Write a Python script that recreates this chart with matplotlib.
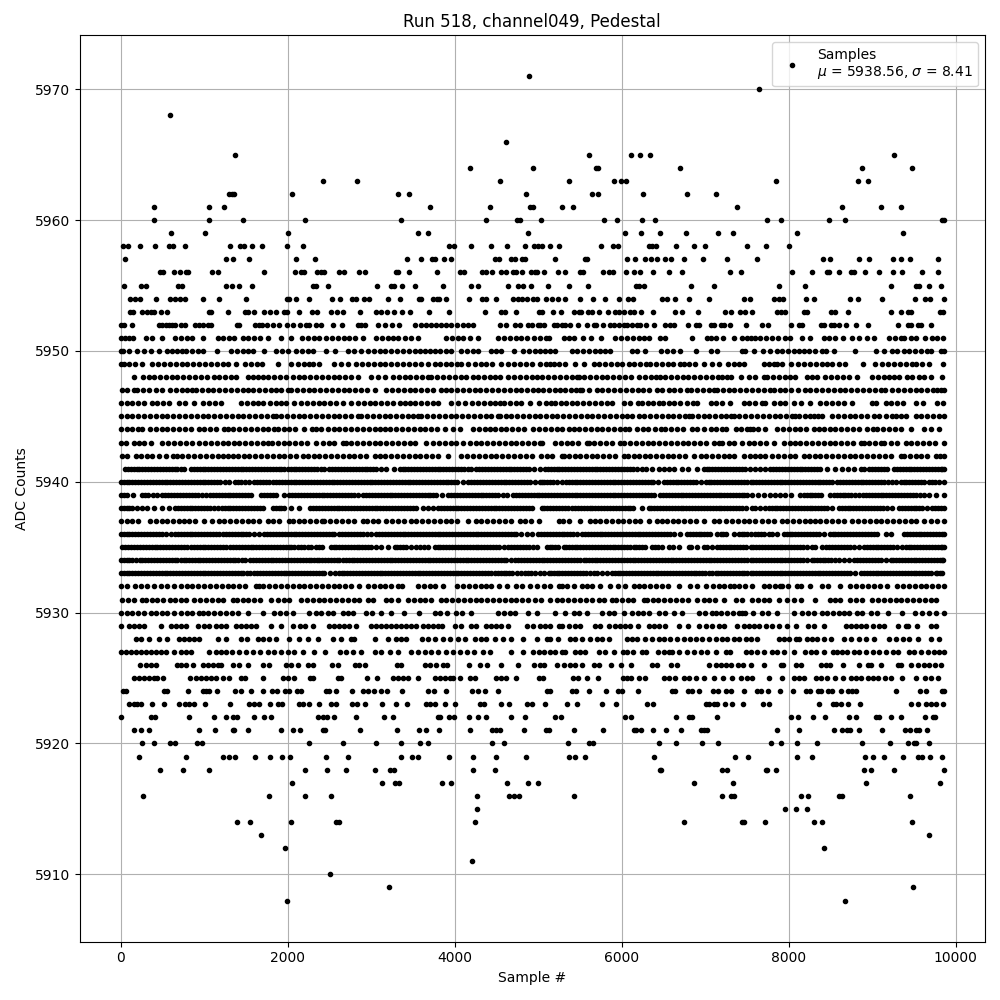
import matplotlib
matplotlib.use("Agg")
import matplotlib.pyplot as plt

# sample numbers, one list per ADC level
adc_5971 = [4892]
adc_5970 = [7644]
adc_5968 = [596]
adc_5966 = [4616]
adc_5965 = [1364, 5604, 6108, 6216, 6336, 9264]
adc_5964 = [4184, 4940, 5692, 5716, 6696, 8880, 9480]
adc_5963 = [2420, 2828, 4544, 5364, 5904, 5996, 6048, 7848, 8832, 8952]
adc_5962 = [1296, 1328, 1356, 2048, 3320, 3452, 4856, 5648, 5716, 6252, 6780, 7128]
adc_5961 = [404, 1052, 1232, 3704, 4424, 4900, 4932, 5280, 5412, 7380, 8640, 9108, 9348]
adc_5960 = [396, 1052, 1460, 2204, 3356, 4376, 4748, 4780, 5028, 5788, 5940, 6240, 6396, 7740, 7908, 8484, 8676, 9830, 9858]
adc_5959 = [608, 1004, 2000, 3560, 3680, 4880, 6036, 6228, 6456, 6768, 7152, 7332, 8100, 9372]
adc_5958 = [28, 92, 236, 416, 580, 628, 776, 1304, 1424, 1476, 1568, 1688, 1988, 2180, 3932, 3992, 4200, 4436, 4628, 4844,
            4952, 4996, 5048, 5136, 5244, 5748, 5892, 5952, 6324, 6364, 6408, 6648, 6864, 6996, 7500, 7728, 8004]
adc_5957 = [56, 1256, 1340, 1532, 2096, 2324, 3428, 3596, 3728, 3768, 3872, 3956, 4488, 4536, 4676, 4724, 4808, 4844,
            5196, 5556, 5580, 6060, 6156, 6276, 6348, 6420, 6516, 6588, 6744, 6972, 7260, 7620, 8412, 8496, 8844, 8964,
            9252, 9348, 9456, 9792]
adc_5956 = [476, 508, 644, 716, 788, 812, 1088, 1160, 1712, 2084, 2156, 2192, 2348, 2404, 2432, 2612, 2672, 2852, 2924,
            3300, 3316, 3452, 3788, 4064, 4116, 4328, 4380, 4448, 4556, 4616, 4700, 4740, 4812, 4908, 4960, 4988, 5064,
            5232, 5316, 5504, 5532, 5772, 5844, 5896, 6048, 6144, 6224, 6372, 6564, 6720, 7296, 7428, 8040, 8280, 8460,
            8484, 8604, 8748, 8784, 8916, 9084, 9252, 9360, 9600, 9792]
adc_5955 = [44, 248, 308, 692, 732, 1264, 1328, 1412, 1568, 2300, 2340, 2480, 3068, 3240, 3268, 3368, 3524, 3860, 4200,
            4280, 4644, 4764, 4820, 4916, 5112, 5364, 5592, 6168, 6204, 6264, 6828, 7104, 7884, 8196, 9228, 9528, 9564,
            9684, 9828]
adc_5954 = [116, 176, 236, 428, 596, 656, 708, 776, 980, 1172, 1496, 1988, 2020, 2096, 2252, 2528, 2624, 2768, 2820, 2912,
            2972, 3200, 3344, 3572, 3596, 3744, 3788, 3812, 3896, 4172, 4328, 4380, 4496, 4700, 4764, 4812, 4860, 4940,
            4988, 5088, 5160, 5232, 5324, 5496, 5652, 5796, 5964, 6072, 6132, 6480, 6540, 6636, 6804, 7044, 7464, 7532,
            7824, 7884, 7932, 8208, 8308, 8736, 8832, 9120, 9516, 9636, 9696, 9858]
adc_5953 = [116, 152, 260, 320, 368, 400, 488, 560, 1052, 1076, 1280, 1484, 1520, 1592, 1712, 1784, 1856, 1952, 1988, 2132,
            2288, 2348, 2516, 2588, 2660, 2864, 3056, 3116, 3188, 3272, 3368, 3464, 3692, 3932, 4364, 4556, 4604, 4736,
            5012, 5044, 5172, 5272, 5424, 5484, 5512, 5592, 5644, 5724, 5832, 5916, 5964, 6024, 6096, 6144, 6228, 6372,
            6636, 6720, 6912, 7236, 7308, 7416, 7476, 7560, 7860, 7908, 7956, 8184, 8220, 8508, 8556, 8712, 9228, 9348,
            9432, 9468, 9816, 9852]
adc_5952 = [8, 44, 140, 464, 500, 540, 580, 620, 650, 728, 772, 884, 932, 980, 1040, 1080, 1388, 1412, 1604, 1652, 1688,
            1748, 1820, 1900, 1988, 2060, 2148, 2220, 2260, 2340, 2400, 2540, 2648, 2840, 2880, 2928, 3080, 3160, 3248,
            3332, 3520, 3600, 3660, 3720, 3780, 3840, 3900, 3960, 4032, 4100, 4160, 4220, 4540, 4620, 4720, 4780, 4880,
            4920, 5000, 5024, 5064, 5184, 5224, 5284, 5324, 5384, 5472, 5580, 5664, 5696, 5772, 5856, 5904, 5964, 6024,
            6064, 6124, 6184, 6224, 6292, 6384, 6516, 6576, 6624, 6792, 6888, 6924, 7064, 7104, 7184, 7224, 7296, 7488,
            7680, 7752, 8028, 8124, 8164, 8384, 8424, 8504, 8544, 8604, 8688, 8808, 8952, 9304, 9424, 9464, 9544, 9584, 9704]
adc_5951 = [0, 50, 100, 150, 300, 370, 490, 650, 720, 790, 860, 980, 1160, 1230, 1300, 1360, 1460, 1530, 1600, 1670, 1770,
            1916, 2036, 2170, 2240, 2310, 2380, 2460, 2530, 2600, 2670, 2740, 2810, 2900, 3060, 3130, 3200, 3260, 3320,
            3400, 3480, 3560, 3900, 3970, 4040, 4100, 4180, 4280, 4520, 4590, 4660, 4730, 4800, 4870, 4950, 5020, 5090,
            5124, 5304, 5364, 5424, 5536, 5628, 5748, 5924, 5990, 6060, 6130, 6204, 6264, 6324, 6464, 6524, 6840, 7016,
            7070, 7124, 7212, 7344, 7444, 7500, 7544, 7600, 7660, 7730, 7800, 7870, 7950, 8020, 8160, 8260, 8420, 8480,
            8552, 8648, 8756, 8840, 8932, 9020, 9200, 9270, 9340, 9380, 9460, 9520, 9632, 9720, 9780, 9848]
adc_5950 = [0, 30, 100, 200, 280, 360, 460, 560, 620, 680, 740, 780, 850, 920, 980, 1148, 1320, 1390, 1460, 1520, 1588,
            1720, 1860, 1930, 2000, 2100, 2170, 2240, 2300, 2460, 2568, 2720, 2800, 2880, 2960, 3030, 3100, 3160, 3240,
            3310, 3380, 3450, 3520, 3590, 3650, 3700, 3760, 3830, 3900, 3960, 4080, 4150, 4220, 4280, 4440, 4500, 4560,
            4712, 4820, 4890, 4960, 5020, 5080, 5140, 5204, 5404, 5470, 5540, 5610, 5680, 5744, 5804, 5864, 6124, 6184,
            6276, 6468, 6544, 6610, 6704, 6884, 7064, 7144, 7444, 7480, 7588, 7688, 7780, 7860, 7920, 7990, 8060, 8120,
            8180, 8240, 8320, 8400, 8448, 8540, 8800, 9044, 9140, 9240, 9300, 9380, 9440, 9510, 9580, 9660, 9700, 9825, 9855]
adc_5949 = [0, 40, 100, 170, 250, 380, 450, 520, 590, 660, 730, 800, 870, 940, 1010, 1080, 1150, 1220, 1290, 1380, 1490,
            1560, 1630, 1690, 1880, 2036, 2120, 2190, 2250, 2300, 2380, 2560, 2640, 2720, 2820, 2890, 2960, 3030, 3100,
            3160, 3240, 3310, 3380, 3450, 3520, 3600, 3680, 3760, 3820, 3890, 3960, 4030, 4080, 4160, 4240, 4310, 4380,
            4450, 4560, 4640, 4710, 4780, 4850, 4920, 5020, 5090, 5144, 5184, 5250, 5324, 5444, 5544, 5664, 5730, 5800,
            5870, 5944, 6000, 6084, 6150, 6220, 6290, 6344, 6408, 6484, 6550, 6620, 6704, 6744, 6810, 6880, 6984, 7084,
            7164, 7272, 7344, 7410, 7464, 7700, 7760, 7820, 7860, 7920, 8024, 8108, 8188, 8260, 8330, 8400, 8460, 8520,
            8600, 8680, 8888, 9036, 9120, 9190, 9260, 9330, 9400, 9480, 9520, 9600, 9680, 9848]
adc_5948 = [164, 270, 340, 400, 470, 540, 610, 680, 750, 820, 890, 960, 1030, 1120, 1180, 1250, 1320, 1380, 1520, 1580,
            1640, 1700, 1770, 1840, 1910, 1980, 2060, 2130, 2200, 2270, 2340, 2410, 2480, 2550, 2620, 2690, 2760, 2840,
            3000, 3080, 3164, 3260, 3330, 3400, 3470, 3540, 3610, 3680, 3720, 3790, 3860, 3930, 4000, 4070, 4140, 4220,
            4280, 4350, 4420, 4480, 4540, 4640, 4710, 4780, 4850, 4920, 4980, 5050, 5120, 5190, 5260, 5330, 5400,
            5464, 5484, 5550, 5620, 5690, 5760, 5830, 5900, 5970, 6040, 6110, 6204, 6284, 6350, 6410, 6464, 6524, 6590,
            6660, 6730, 6800, 6870, 6940, 7010, 7080, 7150, 7204, 7264, 7304, 7424, 7520, 7600, 7700, 7740, 7810, 7880,
            7950, 8020, 8080, 8220, 8280, 8340, 8440, 8510, 8580, 8650, 8720, 8820, 9000, 9070, 9140, 9200, 9260, 9320,
            9420, 9480, 9560, 9620, 9700, 9832]
adc_5947 = [12, 80, 160, 200, 270, 340, 420, 500, 592, 660, 730, 800, 860, 900, 970, 1040, 1110, 1180, 1250, 1320, 1390,
            1460, 1520, 1590, 1660, 1730, 1800, 1860, 1920, 2000, 2040, 2110, 2180, 2250, 2320, 2390, 2460, 2530, 2600,
            2670, 2740, 2810, 2880, 2950, 3040, 3180, 3250, 3320, 3390, 3460, 3530, 3600, 3670, 3740, 3840, 3892, 3960,
            4030, 4100, 4170, 4240, 4300, 4380, 4450, 4520, 4590, 4660, 4730, 4800, 4870, 4940, 5000, 5056, 5130, 5200,
            5264, 5324, 5390, 5450, 5504, 5524, 5604, 5704, 5770, 5840, 5910, 5980, 6050, 6120, 6190, 6260, 6330, 6424,
            6484, 6564, 6624, 6700, 6784, 6832, 6900, 6970, 7040, 7104, 7144, 7210, 7280, 7350, 7420, 7490, 7560, 7630,
            7700, 7780, 7820, 7890, 7960, 8030, 8108, 8192, 8260, 8330, 8400, 8470, 8540, 8610, 8680, 8750, 8820, 8890,
            8960, 9030, 9100, 9152, 9240, 9310, 9380, 9450, 9520, 9590, 9660, 9732, 9780, 9820, 9856]
adc_5946 = [0, 70, 140, 210, 280, 380, 440, 510, 580, 700, 770, 880, 990, 1060, 1130, 1200, 1440, 1510, 1580, 1640, 1700,
            1788, 1860, 1920, 1980, 2080, 2160, 2230, 2300, 2370, 2440, 2510, 2580, 2660, 2760, 2840, 2910, 2980, 3050,
            3120, 3190, 3260, 3340, 3400, 3460, 3530, 3600, 3670, 3740, 3800, 3960, 4040, 4120, 4212, 4280, 4350, 4420,
            4480, 4540, 4588, 4660, 4730, 4800, 4900, 5012, 5090, 5150, 5204, 5272, 5336, 5400, 5470, 5540, 5610,
            5680, 5750, 5820, 5884, 6024, 6100, 6192, 6244, 6310, 6380, 6450, 6500, 6564, 6624, 6700, 6780, 6850, 6904,
            7064, 7130, 7200, 7292, 7464, 7530, 7600, 7680, 7720, 7820, 7890, 7960, 8060, 8148, 8252, 8380,
            8450, 8520, 8590, 8660, 8760, 9000, 9040, 9160, 9230, 9300, 9372, 9520, 9608, 9780, 9850]
adc_5945 = [0, 70, 140, 210, 280, 350, 420, 490, 560, 630, 700, 770, 840, 910, 980, 1050, 1120, 1190, 1260, 1330, 1400,
            1470, 1540, 1610, 1680, 1750, 1820, 1860, 1920, 1990, 2060, 2130, 2200, 2270, 2340, 2410, 2480, 2550, 2620,
            2690, 2760, 2840, 2880, 2950, 3020, 3090, 3160, 3230, 3300, 3370, 3440, 3500, 3560, 3600, 3670, 3740, 3810,
            3880, 3950, 4020, 4090, 4160, 4230, 4300, 4370, 4440, 4520, 4540, 4610, 4680, 4750, 4820, 4890, 4960, 5020,
            5090, 5160, 5230, 5300, 5370, 5440, 5510, 5580, 5650, 5720, 5790, 5860, 5930, 6000, 6064, 6124, 6204, 6270,
            6340, 6410, 6480, 6550, 6620, 6690, 6760, 6804, 6844, 6910, 6980, 7050, 7120, 7190, 7250, 7304, 7344, 7410,
            7480, 7544, 7620, 7690, 7760, 7830, 7900, 7970, 8040, 8080, 8120, 8190, 8250, 8300, 8348, 8400, 8520, 8590,
            8660, 8730, 8800, 8870, 8940, 9020, 9080, 9160, 9240, 9280, 9348, 9400, 9520, 9590, 9660, 9730, 9800, 9858]
adc_5944 = [0, 70, 140, 210, 260, 352, 420, 490, 560, 630, 700, 770, 840, 940, 1000, 1070, 1140, 1240, 1280, 1350, 1420,
            1490, 1560, 1630, 1700, 1770, 1840, 1880, 1950, 2020, 2090, 2200, 2290, 2340, 2400, 2480, 2550, 2620, 2690,
            2760, 2830, 2900, 2970, 3040, 3100, 3160, 3228, 3300, 3370, 3440, 3510, 3580, 3650, 3720, 3790, 3880, 3980,
            4060, 4220, 4290, 4360, 4420, 4480, 4550, 4620, 4690, 4760, 4830, 4936, 5012, 5080, 5150, 5220, 5290,
            5364, 5424, 5490, 5560, 5630, 5700, 5770, 5840, 5910, 5980, 6044, 6084, 6184, 6250, 6320, 6404, 6472, 6524,
            6590, 6660, 6730, 6844, 6904, 6984, 7064, 7130, 7200, 7244, 7364, 7430, 7500, 7540, 7568,
            7628, 7720, 7860, 7930, 8000, 8070, 8140, 8210, 8300, 8360, 8420, 8490, 8560, 8630, 8700, 8770, 8840, 8940,
            9008, 9060, 9130, 9200, 9270, 9340, 9460, 9620, 9700, 9800]
adc_5943 = [0, 60, 160, 220, 280, 360, 500, 570, 640, 710, 780, 850, 940, 1012, 1080, 1150, 1220, 1280, 1352, 1420, 1490,
            1560, 1630, 1700, 1760, 1812, 1880, 1960, 2020, 2090, 2160, 2230, 2340, 2420, 2490, 2560, 2660, 2696, 2760,
            2830, 2900, 2970, 3040, 3110, 3180, 3250, 3320, 3390, 3460, 3530, 3660, 3740, 3810, 3880, 3950, 4020, 4100,
            4180, 4250, 4320, 4390, 4460, 4530, 4600, 4670, 4740, 4810, 4880, 4950, 5020, 5044, 5204, 5270, 5340, 5410,
            5480, 5584, 5604, 5670, 5740, 5810, 5880, 5984, 6032, 6100, 6170, 6240, 6310, 6380, 6450, 6520, 6590, 6660,
            6730, 6800, 6870, 6940, 7010, 7104, 7164, 7204, 7284, 7350, 7440, 7520, 7590, 7660, 7730, 7820,
            7940, 8020, 8080, 8140, 8208, 8280, 8350, 8420, 8490, 8560, 8630, 8700, 8770, 8860, 8900, 8960, 9030, 9100,
            9140, 9228, 9300, 9400, 9468, 9540, 9610, 9680, 9750, 9855]
adc_5942 = [12, 80, 180, 240, 310, 380, 460, 540, 630, 670, 740, 810, 880, 950, 1020, 1090, 1160, 1230, 1280, 1340, 1400,
            1480, 1540, 1610, 1680, 1750, 1820, 1890, 1960, 2030, 2100, 2180, 2240, 2310, 2380, 2450, 2520, 2590, 2660,
            2740, 2800, 2870, 2940, 3040, 3100, 3170, 3240, 3310, 3380, 3450, 3520, 3590, 3660, 3730, 3800, 3920, 4080,
            4150, 4220, 4290, 4360, 4430, 4500, 4570, 4640, 4710, 4780, 4850, 4920, 5030, 5100, 5170, 5284, 5304,
            5370, 5444, 5504, 5570, 5640, 5710, 5780, 5850, 5920, 6024, 6072, 6144, 6210, 6284, 6344, 6410, 6480, 6550,
            6620, 6690, 6760, 6864, 6944, 7010, 7080, 7150, 7220, 7290, 7344, 7460, 7540, 7600, 7660, 7720,
            7800, 7870, 7940, 8010, 8080, 8180, 8240, 8310, 8380, 8450, 8520, 8590, 8660, 8730, 8800, 8870, 8940, 9010,
            9080, 9150, 9220, 9340, 9380, 9452, 9520, 9590, 9660, 9760, 9810, 9855]
adc_5941 = [52, 120, 190, 260, 330, 400, 470, 540, 610, 680, 760, 840, 910, 980, 1050, 1120, 1190, 1260, 1330, 1400, 1470,
            1540, 1610, 1680, 1750, 1820, 1890, 1960, 2000, 2070, 2140, 2210, 2280, 2350, 2440, 2500, 2570, 2640, 2710,
            2780, 2850, 2920, 2990, 3060, 3180, 3268, 3340, 3410, 3480, 3550, 3620, 3690, 3760, 3830, 3900, 3970, 4040,
            4110, 4200, 4260, 4330, 4400, 4470, 4540, 4610, 4680, 4750, 4820, 4890, 5020, 5084, 5150, 5220, 5290,
            5360, 5430, 5500, 5570, 5640, 5710, 5780, 5850, 5920, 5990, 6060, 6130, 6244, 6296, 6364, 6444, 6504, 6570,
            6624, 6724, 6800, 6904, 6984, 7050, 7120, 7190, 7260, 7330, 7400, 7480, 7540, 7600, 7660,
            7720, 7780, 7850, 7920, 7990, 8060, 8130, 8200, 8270, 8340, 8380, 8460, 8560, 8640, 8710, 8780, 8860, 8900,
            8960, 9030, 9100, 9180, 9260, 9330, 9400, 9470, 9540, 9610, 9680, 9750, 9820, 9858]
adc_5940 = [0, 70, 140, 210, 280, 350, 420, 490, 560, 630, 700, 770, 840, 910, 980, 1050, 1120, 1190, 1300, 1372, 1440,
            1540, 1600, 1670, 1740, 1820, 1860, 1930, 2000, 2070, 2140, 2210, 2280, 2350, 2420, 2490, 2560, 2630, 2700,
            2770, 2840, 2910, 2980, 3050, 3120, 3190, 3260, 3330, 3400, 3470, 3540, 3610, 3680, 3750, 3820, 3890, 3960,
            4030, 4160, 4200, 4270, 4340, 4410, 4480, 4550, 4620, 4690, 4760, 4830, 4900, 5020, 5040, 5110, 5180, 5284,
            5336, 5400, 5470, 5540, 5610, 5680, 5750, 5820, 5890, 5960, 6030, 6100, 6170, 6240, 6310, 6380, 6504, 6544,
            6610, 6680, 6750, 6820, 6890, 7004, 7044, 7110, 7180, 7250, 7320, 7390, 7460, 7544, 7610, 7680, 7750, 7820,
            7890, 7960, 8030, 8100, 8170, 8240, 8310, 8380, 8450, 8520, 8580, 8650, 8720, 8790, 8860, 8930, 9000, 9070,
            9140, 9240, 9280, 9340, 9410, 9480, 9550, 9620, 9680, 9750, 9855]
adc_5939 = [0, 80, 152, 260, 330, 440, 500, 570, 640, 710, 780, 850, 920, 1020, 1072, 1140, 1210, 1280, 1350, 1420, 1490,
            1560, 1680, 1720, 1790, 1860, 1960, 2020, 2090, 2160, 2230, 2300, 2370, 2440, 2510, 2580, 2650, 2720, 2790,
            2900, 2940, 3010, 3080, 3150, 3220, 3290, 3360, 3430, 3500, 3570, 3640, 3710, 3780, 3920, 3960, 4030, 4100,
            4170, 4240, 4310, 4380, 4450, 4520, 4628, 4700, 4770, 4840, 4910, 4980, 5050, 5120, 5190, 5260, 5330, 5400,
            5470, 5540, 5610, 5680, 5750, 5820, 5890, 5960, 6030, 6100, 6170, 6240, 6310, 6384, 6456, 6530, 6600, 6670,
            6740, 6810, 6880, 6950, 7020, 7090, 7160, 7230, 7300, 7370, 7440, 7500, 7560, 7630, 7700, 7780,
            7840, 7900, 7960, 8030, 8140, 8180, 8250, 8320, 8390, 8500, 8540, 8610, 8680, 8750, 8840, 8892, 8960, 9030,
            9100, 9170, 9240, 9310, 9380, 9450, 9520, 9620, 9680, 9760, 9858]
adc_5938 = [0, 70, 140, 200, 260, 320, 400, 500, 580, 652, 720, 790, 860, 930, 1000, 1070, 1160, 1212, 1280, 1350, 1420,
            1490, 1560, 1630, 1700, 1820, 1890, 1960, 2040, 2132, 2268, 2340, 2410, 2480, 2550, 2620, 2690, 2760, 2830,
            2900, 2970, 3040, 3110, 3180, 3250, 3320, 3390, 3460, 3540, 3620, 3680, 3740, 3800, 3870, 3940, 4010, 4080,
            4150, 4220, 4290, 4360, 4430, 4500, 4570, 4640, 4710, 4780, 4850, 4920, 5040, 5110, 5180, 5250,
            5320, 5404, 5444, 5510, 5580, 5650, 5720, 5790, 5860, 5930, 6000, 6070, 6140, 6244, 6324, 6390, 6460, 6530,
            6600, 6670, 6740, 6810, 6880, 6950, 7020, 7090, 7160, 7230, 7300, 7370, 7440, 7490, 7560, 7600,
            7660, 7720, 7760, 7830, 7900, 7970, 8040, 8110, 8180, 8250, 8320, 8390, 8460, 8520, 8600, 8670, 8740, 8810,
            8880, 8950, 9020, 9090, 9180, 9240, 9320, 9390, 9460, 9530, 9600, 9660, 9720, 9790, 9855]
adc_5937 = [0, 70, 140, 212, 348, 420, 490, 560, 630, 700, 760, 820, 890, 992, 1092, 1180, 1240, 1310, 1380, 1450, 1520,
            1588, 1652, 1760, 1830, 1900, 2020, 2060, 2130, 2200, 2270, 2340, 2412, 2440, 2510, 2580, 2650, 2720, 2790,
            2900, 2952, 3020, 3080, 3180, 3250, 3320, 3390, 3480, 3540, 3610, 3680, 3750, 3820, 3890, 3960, 4030, 4160,
            4252, 4320, 4390, 4460, 4530, 4600, 4670, 4780, 4840, 4910, 5004, 5244, 5300, 5364, 5504, 5624,
            5684, 5744, 5810, 5880, 5950, 6020, 6090, 6160, 6224, 6324, 6424, 6484, 6544, 6610, 6680, 6750, 6820, 6890,
            6984, 7104, 7170, 7244, 7324, 7390, 7460, 7520, 7600, 7680, 7750, 7820, 7920, 7980, 8050, 8120, 8190,
            8260, 8320, 8380, 8450, 8520, 8590, 8660, 8760, 8830, 8900, 8970, 9040, 9110, 9180, 9250, 9320, 9390, 9460,
            9530, 9620, 9700, 9780, 9855]
adc_5936 = [0, 70, 140, 210, 280, 350, 420, 490, 600, 652, 720, 790, 860, 930, 1000, 1070, 1140, 1220, 1260, 1330, 1400,
            1470, 1540, 1660, 1720, 1790, 1860, 1930, 2000, 2070, 2140, 2210, 2280, 2350, 2420, 2490, 2560, 2620, 2690,
            2760, 2830, 2900, 3000, 3060, 3130, 3200, 3270, 3340, 3410, 3480, 3550, 3620, 3690, 3760, 3830, 3900, 3970,
            4040, 4110, 4180, 4250, 4320, 4390, 4460, 4530, 4600, 4670, 4740, 4860, 4920, 5000, 5070, 5140, 5210, 5280,
            5350, 5420, 5524, 5564, 5630, 5700, 5770, 5840, 5910, 5980, 6050, 6120, 6190, 6260, 6330, 6400, 6470, 6540,
            6624, 6704, 6784, 6850, 6920, 6990, 7060, 7144, 7184, 7250, 7344, 7404, 7470, 7544, 7630, 7700,
            7760, 7800, 7860, 7940, 8010, 8080, 8150, 8220, 8290, 8360, 8420, 8492, 8560, 8630, 8700, 8770, 8840, 8910,
            8980, 9060, 9160, 9220, 9380, 9450, 9520, 9590, 9660, 9730, 9800, 9855]
adc_5935 = [20, 90, 160, 230, 300, 370, 440, 510, 580, 650, 720, 800, 840, 910, 980, 1050, 1120, 1190, 1260, 1308, 1380,
            1450, 1520, 1590, 1660, 1730, 1800, 1870, 1940, 2010, 2080, 2120, 2200, 2280, 2340, 2410, 2520, 2580, 2650,
            2720, 2790, 2860, 2930, 3000, 3120, 3200, 3280, 3350, 3420, 3540, 3580, 3680, 3760, 3830, 3900, 3970, 4040,
            4110, 4180, 4250, 4320, 4390, 4460, 4530, 4640, 4680, 4750, 4820, 4890, 4984, 5104, 5170, 5240, 5304, 5336,
            5400, 5470, 5540, 5610, 5680, 5750, 5820, 5890, 5960, 6030, 6104, 6144, 6210, 6280, 6364, 6404, 6480, 6564,
            6616, 6690, 6804, 6832, 6900, 6984, 7024, 7084, 7144, 7210, 7280, 7350, 7420, 7490, 7544, 7610, 7680, 7750,
            7820, 7890, 7960, 8030, 8100, 8170, 8280, 8320, 8400, 8452, 8520, 8590, 8660, 8730, 8840, 8900, 8970, 9040,
            9110, 9180, 9250, 9360, 9400, 9470, 9540, 9610, 9680, 9750, 9820, 9858]
adc_5934 = [0, 70, 140, 228, 260, 330, 400, 470, 540, 610, 680, 760, 780, 850, 920, 990, 1060, 1130, 1200, 1270, 1340,
            1410, 1492, 1548, 1620, 1690, 1760, 1830, 1900, 1970, 2040, 2110, 2180, 2250, 2320, 2380, 2412, 2480, 2550,
            2620, 2700, 2732, 2800, 2870, 2940, 3010, 3080, 3150, 3220, 3290, 3360, 3430, 3500, 3570, 3640, 3710, 3780,
            3850, 3920, 3990, 4060, 4130, 4200, 4270, 4340, 4410, 4480, 4550, 4620, 4720, 4760, 4830, 4900, 4970, 5040,
            5110, 5180, 5250, 5320, 5390, 5460, 5544, 5572, 5640, 5710, 5780, 5850, 5920, 5990, 6060, 6130, 6200, 6270,
            6340, 6410, 6480, 6550, 6620, 6690, 6760, 6830, 6900, 6970, 7040, 7110, 7180, 7250, 7320, 7390, 7460, 7544,
            7610, 7680, 7750, 7820, 7890, 7960, 8030, 8100, 8170, 8280, 8300, 8370, 8440, 8510, 8600, 8660, 8720, 8780,
            8820, 8890, 8960, 9030, 9100, 9220, 9252, 9320, 9390, 9460, 9530, 9600, 9670, 9740, 9810, 9850]
adc_5933 = [0, 70, 140, 210, 280, 350, 420, 490, 560, 630, 700, 770, 840, 910, 980, 1050, 1120, 1190, 1260, 1330, 1400,
            1470, 1548, 1600, 1670, 1740, 1810, 1880, 1950, 2020, 2090, 2160, 2230, 2300, 2370, 2440, 2572, 2612, 2680,
            2750, 2820, 2890, 2960, 3030, 3100, 3170, 3240, 3310, 3380, 3450, 3520, 3590, 3660, 3730, 3800, 3870, 3940,
            4010, 4080, 4150, 4220, 4290, 4360, 4440, 4480, 4550, 4620, 4690, 4800, 4840, 4910, 5020, 5124, 5152, 5220,
            5290, 5360, 5430, 5500, 5570, 5664, 5704, 5764, 5824, 5884, 5950, 6020, 6090, 6160, 6230, 6300, 6370, 6440,
            6510, 6580, 6650, 6720, 6790, 6860, 6930, 7000, 7084, 7124, 7190, 7260, 7330, 7400, 7470, 7544, 7610, 7680,
            7750, 7820, 7890, 7960, 8030, 8100, 8170, 8240, 8310, 8380, 8450, 8520, 8590, 8660, 8730, 8860, 8900, 8970,
            9040, 9110, 9180, 9250, 9320, 9390, 9460, 9530, 9600, 9670, 9760, 9780, 9840]
adc_5932 = [0, 80, 172, 240, 320, 400, 480, 560, 640, 720, 790, 860, 930, 1000, 1070, 1140, 1210, 1280, 1350, 1420, 1490,
            1620, 1652, 1708, 1780, 1850, 1920, 1990, 2060, 2130, 2200, 2270, 2340, 2410, 2480, 2550, 2620, 2690, 2760,
            2860, 2960, 3030, 3100, 3170, 3240, 3320, 3372, 3560, 3630, 3700, 3760, 3860, 4028, 4100, 4170, 4240, 4310,
            4380, 4440, 4532, 4628, 4740, 4810, 4900, 4980, 5064, 5144, 5244, 5284, 5350, 5424, 5524, 5584,
            5650, 5744, 5864, 5950, 6044, 6144, 6204, 6270, 6340, 6410, 6480, 6550, 6684, 6816, 6896, 7004, 7096, 7160,
            7224, 7296, 7344, 7410, 7480, 7560, 7700, 7760, 7830, 7900, 7920, 7990, 8100, 8148, 8260, 8400,
            8470, 8612, 8740, 8810, 8880, 8950, 9020, 9090, 9180, 9300, 9370, 9440, 9510, 9580, 9650, 9720, 9790, 9855]
adc_5931 = [20, 90, 160, 260, 300, 370, 440, 510, 588, 652, 720, 788, 880, 950, 1020, 1090, 1160, 1230, 1340, 1388, 1460,
            1530, 1600, 1670, 1800, 1880, 1950, 2020, 2160, 2230, 2300, 2370, 2440, 2510, 2580, 2650, 2720, 2790, 2860,
            2960, 3020, 3180, 3240, 3320, 3440, 3510, 3580, 3650, 3720, 3840, 3900, 3970, 4040, 4110, 4180, 4250, 4320,
            4390, 4460, 4530, 4600, 4670, 4740, 4810, 4880, 4960, 5030, 5144, 5224, 5290, 5360, 5430, 5500, 5570,
            5644, 5724, 5790, 5884, 5936, 6000, 6070, 6140, 6264, 6304, 6370, 6440, 6510, 6580, 6650, 6720, 6790, 6904,
            6984, 7050, 7120, 7224, 7364, 7444, 7560, 7630, 7700, 7770, 7880, 7980, 8060, 8152, 8312, 8500, 8560,
            8620, 8740, 8810, 8880, 9000, 9068, 9140, 9210, 9280, 9350, 9420, 9490, 9560, 9630, 9700, 9760]
adc_5930 = [0, 70, 140, 210, 280, 360, 420, 490, 560, 640, 720, 790, 860, 940, 980, 1050, 1120, 1190, 1260, 1330, 1400,
            1520, 1708, 1840, 1910, 1980, 2060, 2260, 2340, 2400, 2480, 2540, 2660, 2720, 2780, 2940, 3010, 3120, 3232,
            3392, 3572, 3760, 3820, 3908, 4020, 4090, 4200, 4520, 4590, 4660, 4720, 4880, 4980, 5204, 5324, 5424,
            5484, 5588, 5764, 5844, 5904, 6024, 6124, 6190, 6260, 6330, 6444, 6516, 6624, 6724, 6924, 7000, 7084, 7124,
            7190, 7260, 7330, 7400, 7440, 7480, 7572, 7680, 7750, 7860, 8068, 8160, 8230, 8300, 8400, 8460, 8530,
            8600, 8660, 8728, 8820, 8880, 8980, 9060, 9188, 9352, 9512, 9600, 9680, 9768, 9858]
adc_5929 = [8, 100, 160, 220, 280, 488, 600, 660, 720, 780, 920, 1000, 1060, 1140, 1200, 1260, 1380, 1440, 1500, 1560, 1620,
            1800, 1916, 2060, 2148, 2208, 2300, 2500, 2560, 2620, 2680, 2740, 2824, 3000, 3060, 3120, 3180, 3240, 3300,
            3360, 3420, 3480, 3540, 3620, 3680, 3740, 3800, 3852, 4000, 4080, 4200, 4260, 4380, 4440, 4500, 4560, 4640,
            4860, 4940, 5024, 5084, 5144, 5244, 5284, 5364, 5444, 5496, 5684, 5744, 5844, 5924, 5984, 6044, 6104,
            6192, 6324, 6384, 6444, 6524, 6684, 6792, 6924, 7004, 7084, 7164, 7224, 7376, 7464, 7524, 7584, 7644, 7724,
            7804, 7884, 7984, 8088, 8232, 8304, 8424, 8684, 8744, 8804, 8864, 8924, 9004, 9084, 9144, 9312, 9404, 9424,
            9540, 9704, 9764]
adc_5928 = [180, 240, 340, 464, 560, 700, 760, 820, 880, 940, 1160, 1260, 1440, 1508, 1640, 1700, 1780, 1860, 2012, 2140,
            2240, 2360, 2540, 2640, 2760, 2800, 3040, 3200, 3300, 3360, 3420, 3612, 3680, 3760, 3860, 3940, 4040, 4128,
            4240, 4320, 4380, 4480, 4580, 4680, 4820, 4980, 5104, 5144, 5232, 5384, 5444, 5524, 5616, 5704, 5764,
            5844, 6064, 6124, 6184, 6284, 6364, 6444, 6504, 6584, 6664, 6744, 6824, 6884, 6964, 7044, 7124, 7204, 7264,
            7344, 7404, 7484, 7544, 7624, 7884, 7944, 8004, 8084, 8124, 8224, 8284, 8344, 8424, 8504, 8664, 8744, 8844,
            8924, 9024, 9204, 9284, 9364, 9444, 9544, 9700, 9796]
adc_5927 = [0, 60, 120, 180, 240, 300, 360, 420, 480, 540, 644, 720, 780, 840, 1060, 1140, 1200, 1260, 1332, 1420, 1500,
            1580, 1664, 1760, 1840, 1920, 2000, 2080, 2180, 2320, 2444, 2628, 2700, 2780, 2876, 3040, 3120, 3220, 3320,
            3480, 3560, 3640, 3720, 3800, 3900, 3980, 4060, 4152, 4228, 4340, 4420, 4680, 4820, 4940, 5004, 5064,
            5136, 5204, 5284, 5324, 5444, 5504, 5564, 5724, 5804, 5904, 6012, 6064, 6132, 6244, 6296, 6440, 6504, 6564,
            6604, 6684, 6784, 6864, 6944, 7024, 7124, 7244, 7296, 7484, 7544, 7624, 7704, 7804, 7864, 7944, 8060, 8196,
            8264, 8324, 8424, 8532, 8584, 8644, 8704, 8784, 8844, 8924, 9004, 9084, 9164, 9244, 9304, 9444, 9504, 9584,
            9664, 9744, 9804, 9855]
adc_5926 = [236, 300, 360, 428, 680, 720, 788, 872, 980, 1040, 1100, 1160, 1200, 1340, 1420, 1520, 1700, 1772, 1980, 2040,
            2120, 2240, 2300, 2528, 2600, 2812, 2860, 2920, 3308, 3356, 3640, 3700, 3776, 3860, 3908, 4172, 4304, 4388,
            4552, 4756, 4952, 5024, 5072, 5224, 5304, 5384, 5444, 5524, 5664, 5724, 5868, 5988, 6116, 6364, 6424, 6588,
            6660, 7044, 7124, 7184, 7244, 7304, 7392, 7452, 7552, 7704, 7904, 7932, 8088, 8144, 8384, 8444, 8492, 8656,
            8840, 8944, 8984, 9100, 9304, 9344, 9464, 9544, 9624, 9684, 9756, 9828]
adc_5925 = [164, 220, 280, 340, 400, 440, 512, 828, 900, 960, 1020, 1080, 1140, 1220, 1300, 1440, 1484, 1700, 1940, 2000,
            2072, 2268, 2308, 2600, 2640, 2952, 3068, 3260, 3320, 3380, 3440, 3556, 3760, 3820, 3880, 3940, 3980, 4064,
            4180, 4240, 4496, 4560, 4620, 4740, 5012, 5056, 5412, 5472, 5580, 5712, 6016, 6064, 6116, 6204, 6276, 6504,
            6564, 6644, 6744, 6804, 6892, 6984, 7104, 7212, 7316, 7428, 7504, 7564, 7768, 7916, 8064, 8124, 8184, 8324,
            8384, 8464, 8556, 8652, 8748, 8804, 8864, 8944, 9004, 9064, 9156, 9224, 9360, 9528, 9636, 9708, 9792]
adc_5924 = [28, 68, 524, 560, 812, 980, 1020, 1060, 1148, 1364, 1436, 1556, 1700, 1808, 1872, 1964, 2012, 2108, 2156, 2456,
            2492, 2576, 2768, 2900, 2960, 3032, 3116, 3188, 3368, 3680, 3752, 3896, 4212, 4280, 4364, 4520, 5104, 5136,
            5404, 5448, 5604, 5808, 5952, 6004, 6192, 6604, 6640, 6792, 6840, 6924, 7092, 7152, 7248, 7304, 7464, 7616,
            7664, 7752, 7896, 8052, 8204, 8256, 8352, 8384, 8472, 8520, 8628, 8712, 8764, 8808, 9288, 9576, 9644, 9830, 9855]
adc_5923 = [100, 160, 200, 248, 380, 524, 704, 772, 820, 880, 1012, 1312, 1540, 1600, 1660, 1784, 1880, 1932, 2132, 2188,
            2252, 2372, 2516, 2576, 2768, 2828, 2924, 3128, 3296, 3428, 3652, 3700, 3760, 3884, 4004, 4300, 4348, 4556,
            4652, 4860, 4928, 5076, 5340, 5460, 5768, 5928, 6300, 6372, 7004, 7044, 7104, 7136, 7236, 7320, 7452, 7692,
            7764, 8364, 8532, 8572, 8624, 8712, 8856, 9468, 9552, 9640, 9704, 9764, 9850]
adc_5922 = [0, 368, 416, 824, 1112, 1256, 1340, 1388, 1592, 1712, 1796, 2360, 2420, 2468, 2560, 2820, 3152, 3260, 3800, 3820,
            3932, 3992, 4172, 4280, 4376, 4676, 4844, 5196, 5268, 6036, 6108, 6648, 6804, 6840, 7140, 8028, 8112, 8292,
            8436, 8724, 8808, 9048, 9084, 9228, 9348, 9636, 9724, 9752]
adc_5921 = [164, 248, 344, 932, 1128, 1340, 1360, 1520, 1916, 2060, 2144, 2420, 2444, 2864, 3308, 3572, 3656, 3812, 4184, 4448,
            4500, 4548, 4832, 5088, 5124, 5424, 5772, 6144, 6176, 6228, 6372, 6528, 6708, 6952, 6984, 7024, 7860, 8124,
            8544, 8640, 8704, 8736, 8844, 9120, 9396, 9456, 9524, 9564, 9660]
adc_5920 = [260, 404, 596, 656, 908, 968, 2252, 2660, 3056, 3356, 3584, 3680, 4448, 4592, 5352, 5604, 5652, 6444, 6648, 6960,
            7152, 7788, 7908, 8100, 8340, 8880, 9216, 9432, 9504, 9528, 9684]
adc_5919 = [224, 788, 1220, 1292, 1364, 1604, 1784, 1932, 2032, 2464, 2720, 3356, 3488, 3560, 3932, 4220, 4496, 4856, 5364,
            5436, 5556, 6384, 7356, 7512, 8100, 8280, 8916, 9012, 9144, 9372, 9552, 9600, 9696, 9840]
adc_5918 = [476, 752, 1052, 2204, 2468, 2696, 3044, 3224, 3272, 4220, 4484, 6456, 6472, 7200, 7260, 7728, 7744, 7848, 8904,
            8988, 9264, 9858]
adc_5917 = [2048, 3128, 3284, 3332, 3848, 3956, 4628, 4880, 5000, 6864, 7332, 8928, 9816]
adc_5916 = [272, 1772, 2204, 2516, 4268, 4652, 4712, 4772, 5424, 7200, 7308, 7344, 8148, 8232, 8604, 8640, 9456]
adc_5915 = [4268, 7956, 8088, 8220]
adc_5914 = [1388, 1544, 2036, 2576, 2612, 4244, 6744, 7440, 7464, 7716, 8304, 8400, 9480]
adc_5913 = [1676, 9684]
adc_5912 = [1964, 8424]
adc_5911 = [4208]
adc_5910 = [2504]
adc_5909 = [3212, 9492]
adc_5908 = [1988, 8676]

# second pass on the rows that read as solid bands
more_5940 = [35, 105, 175, 245, 315, 385, 455, 525, 595, 665, 735, 805, 875, 945, 1015, 1085, 1155, 1245, 1405, 1490,
             1635, 1705, 1780, 1895, 1965, 2035, 2105, 2175, 2245, 2315, 2385, 2455, 2525, 2595, 2665, 2735, 2805, 2875,
             2945, 3015, 3085, 3155, 3225, 3295, 3365, 3435, 3505, 3575, 3645, 3715, 3785, 3855, 3925, 3995, 4095, 4235,
             4305, 4375, 4445, 4515, 4585, 4655, 4725, 4795, 4865, 4960, 5075, 5145, 5230, 5365, 5435, 5505, 5575, 5645,
             5715, 5785, 5855, 5925, 5995, 6065, 6135, 6205, 6275, 6345, 6440, 6575, 6645, 6715, 6785, 6855, 6945, 7075,
             7145, 7215, 7285, 7355, 7425, 7500, 7575, 7645, 7715, 7785, 7855, 7925, 7995, 8065, 8135, 8205, 8275, 8345,
             8415, 8485, 8615, 8685, 8755, 8825, 8895, 8965, 9035, 9105, 9190, 9375, 9445, 9515, 9585, 9715, 9805]
more_5934 = [35, 105, 185, 295, 365, 435, 505, 575, 645, 720, 815, 885, 955, 1025, 1095, 1165, 1235, 1305, 1375, 1450,
             1585, 1655, 1725, 1795, 1865, 1935, 2005, 2075, 2145, 2215, 2285, 2350, 2445, 2515, 2585, 2660, 2765, 2835,
             2905, 2975, 3045, 3115, 3185, 3255, 3325, 3395, 3465, 3535, 3605, 3675, 3745, 3815, 3885, 3955, 4025, 4095,
             4165, 4235, 4305, 4375, 4445, 4515, 4585, 4670, 4795, 4865, 4935, 5005, 5075, 5145, 5215, 5285, 5355, 5425,
             5500, 5605, 5675, 5745, 5815, 5885, 5955, 6025, 6095, 6165, 6235, 6305, 6375, 6445, 6515, 6585, 6655, 6725,
             6795, 6865, 6935, 7005, 7075, 7145, 7215, 7285, 7355, 7425, 7500, 7575, 7645, 7715, 7785, 7855, 7925, 7995,
             8065, 8135, 8225, 8335, 8405, 8475, 8555, 8855, 8925, 8995, 9065, 9160, 9285, 9355, 9425, 9495, 9565, 9635,
             9705, 9775, 9830]
more_5933 = [35, 105, 175, 245, 315, 385, 455, 525, 595, 665, 735, 805, 875, 945, 1015, 1085, 1155, 1225, 1295, 1365,
             1435, 1510, 1635, 1705, 1775, 1845, 1915, 1985, 2055, 2125, 2195, 2265, 2335, 2405, 2505, 2645, 2715, 2785,
             2855, 2925, 2995, 3065, 3135, 3205, 3275, 3345, 3415, 3485, 3555, 3625, 3695, 3765, 3835, 3905, 3975, 4045,
             4115, 4185, 4255, 4325, 4400, 4515, 4585, 4655, 4745, 4875, 4965, 5075, 5185, 5255, 5325, 5395, 5465, 5535,
             5615, 5917, 5985, 6055, 6125, 6195, 6265, 6335, 6405, 6475, 6545, 6615, 6685, 6755, 6825, 6895, 6965, 7040,
             7155, 7225, 7295, 7365, 7435, 7505, 7575, 7645, 7715, 7785, 7855, 7925, 7995, 8065, 8135, 8205, 8275, 8345,
             8415, 8485, 8555, 8625, 8695, 8795, 8935, 9005, 9075, 9145, 9215, 9285, 9355, 9425, 9495, 9565, 9635, 9710, 9810]
more_5935 = [55, 125, 195, 265, 335, 405, 475, 545, 615, 685, 760, 875, 945, 1015, 1085, 1155, 1225, 1344, 1415, 1485,
             1555, 1625, 1695, 1765, 1835, 1905, 1975, 2045, 2160, 2240, 2375, 2550, 2615, 2685, 2755, 2825, 2895, 2965,
             3060, 3315, 3385, 3480, 3630, 3795, 3865, 3935, 4005, 4075, 4145, 4215, 4285, 4355, 4425, 4495, 4585, 4715,
             4785, 4855, 4940, 5137, 5205, 5370, 5435, 5505, 5575, 5645, 5715, 5785, 5855, 5925, 5995, 6065, 6175, 6245,
             6440, 7177, 7245, 7315, 7385, 7455, 7575, 7645, 7715, 7785, 7855, 7925, 7995, 8065, 8135, 8225, 8485, 8555,
             8625, 8695, 8785, 8935, 9005, 9075, 9145, 9215, 9300, 9435, 9505, 9575, 9645, 9715, 9785, 9840]
more_5936 = [35, 105, 175, 245, 315, 385, 455, 545, 685, 755, 825, 895, 965, 1035, 1105, 1180, 1295, 1365, 1435, 1505,
             1600, 1755, 1825, 1895, 1965, 2035, 2105, 2175, 2245, 2315, 2385, 2455, 2525, 2655, 2725, 2795, 2865, 2950,
             3095, 3165, 3235, 3305, 3375, 3445, 3515, 3585, 3655, 3725, 3795, 3865, 3935, 4005, 4075, 4145, 4215, 4285,
             4355, 4425, 4495, 4565, 4635, 4705, 4800, 5035, 5105, 5175, 5245, 5315, 5385, 5470, 5597, 5665, 5735, 5805,
             5875, 5945, 6015, 6085, 6155, 6225, 6295, 6365, 6435, 6505, 6580, 6815, 6885, 6955, 7025, 7215, 7437, 7505,
             7595, 7665, 7975, 8045, 8115, 8185, 8255, 8325, 8525, 8595, 8665, 8735, 8805, 8875, 8945, 9020, 9415, 9485,
             9555, 9625, 9695, 9765, 9830]
more_5941 = [85, 155, 225, 295, 365, 435, 505, 575, 645, 720, 875, 945, 1015, 1085, 1155, 1225, 1295, 1365, 1435, 1505,
             1575, 1645, 1715, 1785, 1855, 1925, 2035, 2105, 2175, 2245, 2315, 2395, 2535, 2605, 2675, 2745, 2815, 2885,
             2955, 3025, 3120, 3375, 3445, 3515, 3585, 3655, 3725, 3795, 3865, 3935, 4005, 4075, 4155, 4295, 4365, 4435,
             4505, 4575, 4645, 4715, 4785, 4855, 4955, 5117, 5185, 5255, 5325, 5395, 5465, 5535, 5605, 5675, 5745, 5815,
             5885, 5955, 6025, 6095, 6185, 7017, 7085, 7155, 7225, 7295, 7365, 7440, 7815, 7885, 7955, 8025, 8095, 8165,
             8235, 8305, 8995, 9065, 9140, 9295, 9365, 9435, 9505, 9575, 9645, 9715, 9785, 9840]
more_5939 = [40, 295, 385, 535, 605, 675, 745, 815, 885, 970, 1106, 1175, 1245, 1315, 1385, 1455, 1525, 1755, 1825, 2055,
             2125, 2195, 2265, 2335, 2405, 2475, 2545, 2615, 2685, 2755, 2845, 2975, 3045, 3115, 3185, 3255, 3325, 3395,
             3465, 3535, 3605, 3675, 3745, 3850, 3995, 4065, 4135, 4205, 4275, 4345, 4415, 4485, 4575, 4735, 4805, 4875,
             4945, 5015, 5085, 5155, 5225, 5295, 5365, 5435, 5505, 5575, 5645, 5715, 5785, 5855, 5925, 5995, 6065, 6135,
             6205, 6275, 6345, 6490, 6565, 6635, 6705, 6775, 6845, 6915, 6985, 7055, 7125, 7195, 7265, 7335, 7405, 7470,
             8215, 8285, 8355, 8575, 8645, 8715, 8795, 8925, 8995, 9065, 9135, 9205, 9275, 9345, 9415, 9485, 9570]
more_5938 = [35, 105, 685, 755, 825, 895, 965, 1035, 1115, 1245, 1315, 1385, 1455, 1525, 1595, 1665, 1855, 1925, 2305,
             2375, 2445, 2515, 2585, 2655, 2725, 2795, 2865, 2935, 3005, 3075, 3145, 3215, 3285, 3355, 3425, 3500, 3835,
             3905, 3975, 4045, 4115, 4185, 4255, 4325, 4395, 4465, 4535, 4605, 4675, 4745, 4815, 4885, 5075, 5145, 5215,
             5285, 5360, 5477, 5545, 5615, 5685, 5755, 5825, 5895, 5965, 6035, 6105, 6355, 6425, 6495, 6565, 6635, 6705,
             6775, 6845, 6915, 6985, 7055, 7125, 7195, 7265, 7335, 7405, 7795, 7865, 7935, 8005, 8075, 8145, 8215, 8285,
             8355, 8425, 8635, 8705, 8775, 8845, 8915, 8985, 9055, 9135, 9355, 9425, 9495, 9565, 9755, 9825]

rows = [
    (5971, adc_5971), (5970, adc_5970), (5968, adc_5968), (5966, adc_5966), (5965, adc_5965), (5964, adc_5964),
    (5963, adc_5963), (5962, adc_5962), (5961, adc_5961), (5960, adc_5960), (5959, adc_5959), (5958, adc_5958),
    (5957, adc_5957), (5956, adc_5956), (5955, adc_5955), (5954, adc_5954), (5953, adc_5953), (5952, adc_5952),
    (5951, adc_5951), (5950, adc_5950), (5949, adc_5949), (5948, adc_5948), (5947, adc_5947), (5946, adc_5946),
    (5945, adc_5945), (5944, adc_5944), (5943, adc_5943), (5942, adc_5942), (5941, adc_5941), (5940, adc_5940),
    (5939, adc_5939), (5938, adc_5938), (5937, adc_5937), (5936, adc_5936), (5935, adc_5935), (5934, adc_5934),
    (5933, adc_5933), (5932, adc_5932), (5931, adc_5931), (5930, adc_5930), (5929, adc_5929), (5928, adc_5928),
    (5927, adc_5927), (5926, adc_5926), (5925, adc_5925), (5924, adc_5924), (5923, adc_5923), (5922, adc_5922),
    (5921, adc_5921), (5920, adc_5920), (5919, adc_5919), (5918, adc_5918), (5917, adc_5917), (5916, adc_5916),
    (5915, adc_5915), (5914, adc_5914), (5913, adc_5913), (5912, adc_5912), (5911, adc_5911), (5910, adc_5910),
    (5909, adc_5909), (5908, adc_5908),
    (5941, more_5941), (5940, more_5940), (5939, more_5939), (5938, more_5938), (5936, more_5936), (5935, more_5935),
    (5934, more_5934), (5933, more_5933),
]

samples = []
counts = []
for level, xs in rows:
    samples += xs
    counts += [level] * len(xs)

fig, ax = plt.subplots(figsize=(10, 10))
ax.plot(samples, counts, "k.", label="Samples\n$\\mu$ = 5938.56, $\\sigma$ = 8.41")
ax.set_title("Run 518, channel049, Pedestal")
ax.set_xlabel("Sample #")
ax.set_ylabel("ADC Counts")
ax.grid(True)
ax.legend(loc="upper right")
fig.tight_layout()
fig.subplots_adjust(top=0.965)
fig.savefig("out.png", dpi=100)
